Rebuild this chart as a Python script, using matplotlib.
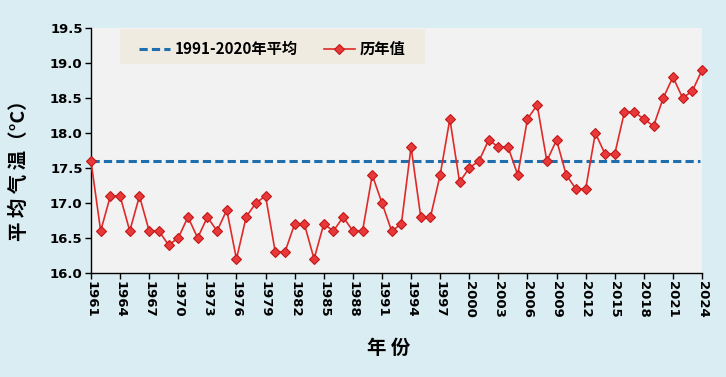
import matplotlib.pyplot as plt
from matplotlib.patches import Rectangle

years = list(range(1961, 2025))
temps = [17.6, 16.6, 17.1, 17.1, 16.6, 17.1, 16.6, 16.6, 16.4, 16.5,
         16.8, 16.5, 16.8, 16.6, 16.9, 16.2, 16.8, 17.0, 17.1, 16.3,
         16.3, 16.7, 16.7, 16.2, 16.7, 16.6, 16.8, 16.6, 16.6, 17.4,
         17.0, 16.6, 16.7, 17.8, 16.8, 16.8, 17.4, 18.2, 17.3, 17.5,
         17.6, 17.9, 17.8, 17.8, 17.4, 18.2, 18.4, 17.6, 17.9, 17.4,
         17.2, 17.2, 18.0, 17.7, 17.7, 18.3, 18.3, 18.2, 18.1, 18.5,
         18.8, 18.5, 18.6, 18.9]
baseline = 17.6
xticks = list(range(1961, 2025, 3))
yticks = [16.0, 16.5, 17.0, 17.5, 18.0, 18.5, 19.0, 19.5]

plt.rcParams['font.family'] = ['DejaVu Sans', 'Noto Sans CJK SC']
cjk = ['Noto Sans CJK SC', 'DejaVu Sans']

fig = plt.figure(figsize=(7.26, 3.77), dpi=100, facecolor='#daedf3')
ax = fig.add_axes([0.1253, 0.2759, 0.8417, 0.6498])
ax.set_facecolor('#f2f2f2')

# legend background box
ax.add_patch(Rectangle((0.0475, 0.853), 0.499, 0.143, transform=ax.transAxes,
                       facecolor='#efebe1', edgecolor='none', zorder=1))

ax.plot([years[0], 2023.8], [baseline, baseline], color='#1f6fae', lw=2.2,
        ls=(0, (2.7, 1.35)), label='1991-2020年平均', zorder=2)
ax.plot(years, temps, color='#e02a2a', lw=1.2, marker='D', ms=5.5,
        markerfacecolor='#e8383a', markeredgecolor='#c01818', mew=0.8,
        label='历年值', clip_on=False, zorder=3)

ax.set_xlim(1961, 2024)
ax.set_ylim(16.0, 19.5)
ax.set_xticks(xticks)
ax.set_xticklabels([str(y) for y in xticks], rotation=270, fontsize=9.5,
                   fontweight='bold')
ax.set_yticks(yticks)
ax.set_yticklabels([f'{v:.1f}' for v in yticks], fontsize=9.5, fontweight='bold')
ax.tick_params(direction='out', length=4, width=1, color='black', pad=2)

for s in ['top', 'right']:
    ax.spines[s].set_visible(False)
for s in ['left', 'bottom']:
    ax.spines[s].set_color('black')
    ax.spines[s].set_linewidth(1)

fig.text(19 / 726, 1 - 166 / 377, '平 均 气 温（°C）', family=cjk, fontsize=14,
         fontweight='bold', rotation=90, ha='center', va='center')
fig.text(389 / 726, 1 - 348 / 377, '年 份', family=cjk, fontsize=14,
         fontweight='bold', ha='center', va='center')

leg = ax.legend(loc='center', bbox_to_anchor=(0.297, 0.914), ncol=2,
                frameon=False, handlelength=2.0, handletextpad=0.35,
                columnspacing=1.7,
                prop={'family': cjk, 'size': 11, 'weight': 'bold'})

fig.savefig('out.png', dpi=100, facecolor=fig.get_facecolor())
